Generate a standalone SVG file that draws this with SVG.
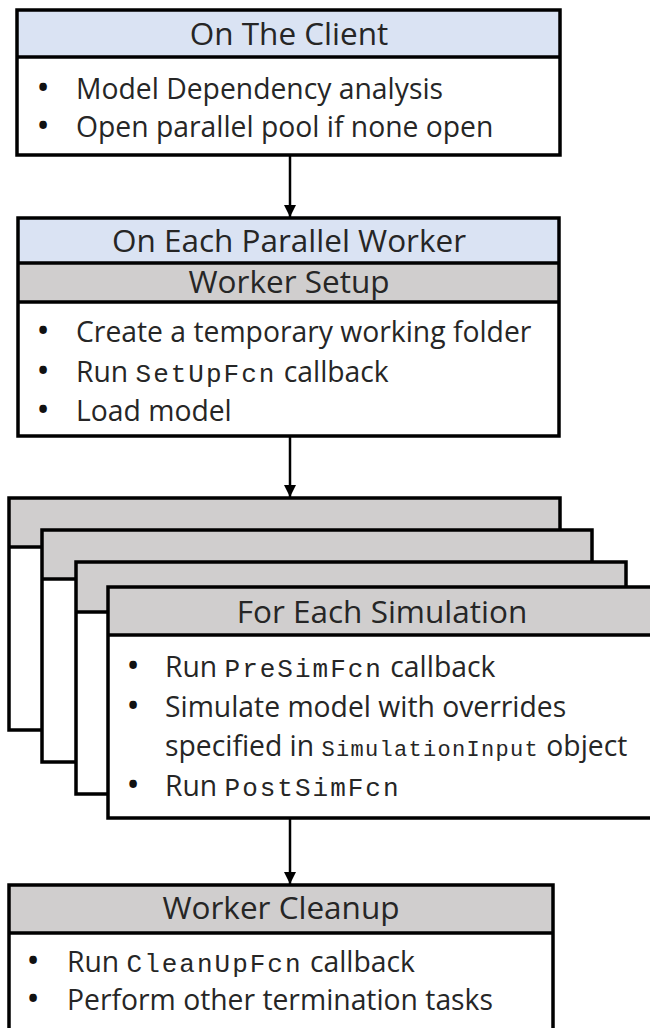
<svg xmlns="http://www.w3.org/2000/svg" width="650" height="1028" viewBox="0 0 650 1028">
<defs>
<marker id="ah" viewBox="0 0 12 12" refX="12" refY="6" markerWidth="12" markerHeight="12" markerUnits="userSpaceOnUse" orient="auto">
<path d="M0,0 L12,6 L0,12 z" fill="#000"/>
</marker>
</defs>
<style>
.t{font-family:"Open Sans","Noto Sans",sans-serif;font-size:28.3px;fill:#262626}
.h{font-family:"Open Sans","Noto Sans",sans-serif;font-size:31.5px;fill:#262626;text-anchor:middle}
.c{text-anchor:middle}
.b{font-size:27px;font-weight:bold;fill:#111}
.m{font-family:"Liberation Mono",monospace;font-size:26px;letter-spacing:2px}
.ms{font-family:"Liberation Mono",monospace;font-size:22px;letter-spacing:1.3px}
.blue{fill:#dae3f3}
.gray{fill:#d0cece}
.white{fill:#fff}
.frame{fill:none;stroke:#000;stroke-width:3.5}
.div{stroke:#000;stroke-width:3.5}
.conn{stroke:#000;stroke-width:2.5;fill:none;marker-end:url(#ah)}
</style>
<rect width="650" height="1028" fill="#fff"/>

<g id="connectors">
<line class="conn" x1="290" y1="155" x2="290" y2="217"/>
<line class="conn" x1="290" y1="436" x2="290" y2="497"/>
<line class="conn" x1="290" y1="818" x2="290" y2="884"/>
</g>

<g id="client">
<rect class="white" x="17" y="10" width="543" height="145"/>
<rect class="blue" x="17" y="10" width="543" height="47"/>
<line class="div" x1="17" y1="57" x2="560" y2="57"/>
<rect class="frame" x="17" y="10" width="543" height="145"/>
<text class="h" x="289" y="45">On The Client</text>
<text class="t c b" x="43" y="97">•</text>
<text class="t" x="76" y="99">Model Dependency analysis</text>
<text class="t c b" x="43" y="135">•</text>
<text class="t" x="76" y="137">Open parallel pool if none open</text>
</g>

<g id="worker">
<rect class="white" x="18" y="218" width="541" height="218"/>
<rect class="blue" x="18" y="218" width="541" height="45"/>
<rect class="gray" x="18" y="263" width="541" height="39"/>
<line class="div" x1="18" y1="263" x2="559" y2="263"/>
<line class="div" x1="18" y1="302" x2="559" y2="302"/>
<rect class="frame" x="18" y="218" width="541" height="218"/>
<text class="h" x="289" y="252">On Each Parallel Worker</text>
<text class="h" x="289" y="293">Worker Setup</text>
<text class="t c b" x="43" y="340">•</text>
<text class="t" x="76" y="342">Create a temporary working folder</text>
<text class="t c b" x="43" y="380">•</text>
<text class="t" x="76" y="382">Run <tspan class="m">SetUpFcn</tspan> callback</text>
<text class="t c b" x="43" y="419">•</text>
<text class="t" x="76" y="421">Load model</text>
</g>

<g id="simulations">
<g id="sim-layer-1">
<rect class="white" x="9" y="498" width="551" height="232"/>
<rect class="gray" x="9" y="498" width="551" height="49"/>
<line class="div" x1="9" y1="547" x2="560" y2="547"/>
<rect class="frame" x="9" y="498" width="551" height="232"/>
</g>
<g id="sim-layer-2">
<rect class="white" x="42" y="530" width="550" height="232"/>
<rect class="gray" x="42" y="530" width="550" height="49"/>
<line class="div" x1="42" y1="579" x2="592" y2="579"/>
<rect class="frame" x="42" y="530" width="550" height="232"/>
</g>
<g id="sim-layer-3">
<rect class="white" x="76" y="562" width="550" height="232"/>
<rect class="gray" x="76" y="562" width="550" height="50"/>
<line class="div" x1="76" y1="612" x2="626" y2="612"/>
<rect class="frame" x="76" y="562" width="550" height="232"/>
</g>
<g id="sim-layer-4">
<rect class="white" x="108" y="587" width="550" height="231"/>
<rect class="gray" x="108" y="587" width="550" height="48"/>
<line class="div" x1="108" y1="635" x2="658" y2="635"/>
<rect class="frame" x="108" y="587" width="550" height="231"/>
<text class="h" x="382" y="623">For Each Simulation</text>
<text class="t c b" x="133" y="675">•</text>
<text class="t" x="165" y="677">Run <tspan class="m">PreSimFcn</tspan> callback</text>
<text class="t c b" x="133" y="715">•</text>
<text class="t" x="165" y="717">Simulate model with overrides</text>
<text class="t" x="165" y="756">specified in <tspan class="ms">SimulationInput</tspan> object</text>
<text class="t c b" x="133" y="794">•</text>
<text class="t" x="165" y="796">Run <tspan class="m">PostSimFcn</tspan></text>
</g>
</g>

<g id="cleanup">
<rect class="white" x="9" y="885" width="544" height="160"/>
<rect class="gray" x="9" y="885" width="544" height="48"/>
<line class="div" x1="9" y1="933" x2="553" y2="933"/>
<rect class="frame" x="9" y="885" width="544" height="160"/>
<text class="h" x="281" y="919">Worker Cleanup</text>
<text class="t c b" x="33" y="970">•</text>
<text class="t" x="67" y="972">Run <tspan class="m">CleanUpFcn</tspan> callback</text>
<text class="t c b" x="33" y="1008">•</text>
<text class="t" x="67" y="1010">Perform other termination tasks</text>
</g>
</svg>
